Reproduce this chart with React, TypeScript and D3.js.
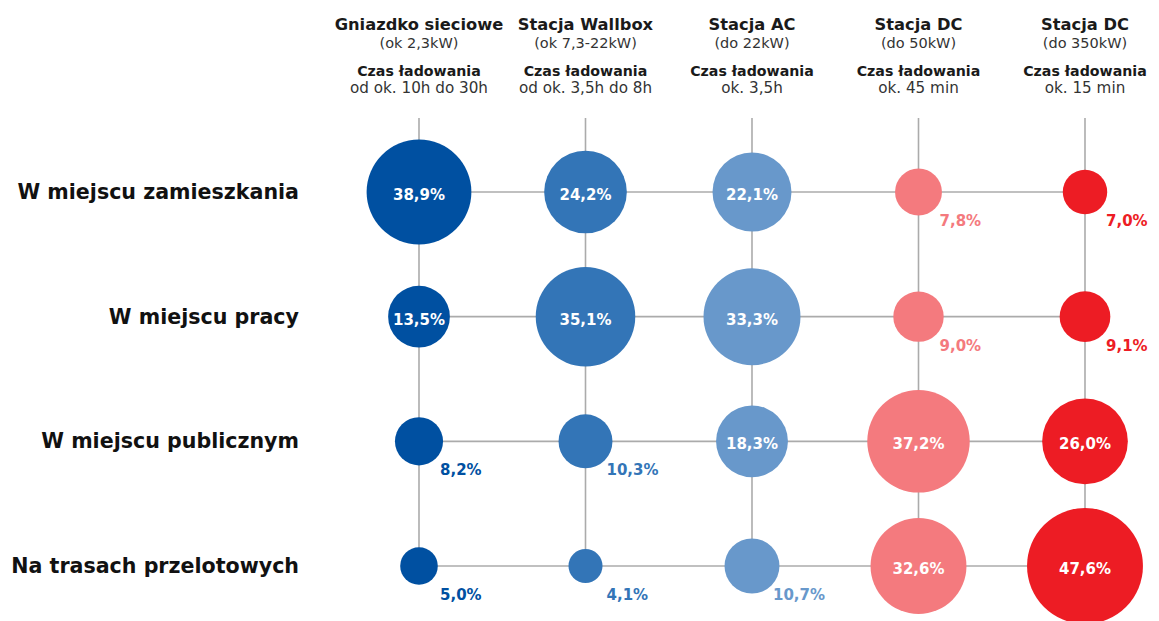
import React, { useEffect, useRef } from "react";
import * as d3 from "d3";

// charger types (columns)
const columns = ["Gniazdko sieciowe", "Stacja Wallbox", "Stacja AC", "Stacja DC", "Stacja DC 350"];
const columnTitles = ["Gniazdko sieciowe", "Stacja Wallbox", "Stacja AC", "Stacja DC", "Stacja DC"];
const columnPower = ["(ok 2,3kW)", "(ok 7,3-22kW)", "(do 22kW)", "(do 50kW)", "(do 350kW)"];
const chargeTime = ["od ok. 10h do 30h", "od ok. 3,5h do 8h", "ok. 3,5h", "ok. 45 min", "ok. 15 min"];

// places (rows)
const rows = ["W miejscu zamieszkania", "W miejscu pracy", "W miejscu publicznym", "Na trasach przelotowych"];

// share of answers in %, one list per charger type, in row order
const gniazdko = [38.9, 13.5, 8.2, 5.0];
const wallbox = [24.2, 35.1, 10.3, 4.1];
const stacjaAC = [22.1, 33.3, 18.3, 10.7];
const stacjaDC50 = [7.8, 9.0, 37.2, 32.6];
const stacjaDC350 = [7.0, 9.1, 26.0, 47.6];

const seriesColors = ["#0050a1", "#3375b7", "#6898cb", "#f47a7e", "#ed1c24"];

const W = 1159;
const H = 621;

const plLocale = d3.formatLocale({ decimal: ",", thousands: " ", grouping: [3], currency: ["", " zł"] });
const fmt = (v: number) => plLocale.format(".1f")(v) + "%";

function BubbleGrid() {
  const ref = useRef<SVGSVGElement>(null);

  useEffect(() => {
    const svg = d3.select(ref.current);
    svg.selectAll("*").remove();

    const font = "'DejaVu Sans', sans-serif";
    const series = [gniazdko, wallbox, stacjaAC, stacjaDC50, stacjaDC350];

    const x = d3.scalePoint<string>().domain(columns).range([419, 1085]);
    const y = d3.scalePoint<string>().domain(rows).range([192, 566]);
    const r = d3.scaleSqrt().domain([0, 50]).range([0, 59.4]);

    const cells = series.flatMap((vals, ci) =>
      vals.map((v, ri) => ({ col: columns[ci], row: rows[ri], ci, v }))
    );

    // grid lines
    const grid = svg.append("g").attr("stroke", "#ababab").attr("stroke-width", 1.6);
    grid.selectAll("line.v")
      .data(columns).enter()
      .append("line")
      .attr("x1", d => x(d)!)
      .attr("x2", d => x(d)!)
      .attr("y1", 118)
      .attr("y2", y(rows[rows.length - 1])!);
    grid.selectAll("line.h")
      .data(rows).enter()
      .append("line")
      .attr("y1", d => y(d)!)
      .attr("y2", d => y(d)!)
      .attr("x1", x(columns[0])!)
      .attr("x2", x(columns[columns.length - 1])!);

    // header
    const head = svg.append("g").attr("font-family", font).attr("text-anchor", "middle").attr("fill", "#1a1a1a");
    columns.forEach((c, i) => {
      const cx = x(c)!;
      head.append("text").attr("x", cx).attr("y", 30).attr("font-size", 16.3).attr("font-weight", "bold").text(columnTitles[i]);
      head.append("text").attr("x", cx).attr("y", 48).attr("font-size", 14.5).attr("fill", "#333").text(columnPower[i]);
      head.append("text").attr("x", cx).attr("y", 76).attr("font-size", 14.2).attr("font-weight", "bold").text("Czas ładowania");
      head.append("text").attr("x", cx).attr("y", 93).attr("font-size", 15.2).attr("fill", "#333").text(chargeTime[i]);
    });

    // row labels
    svg.append("g")
      .attr("font-family", font)
      .attr("text-anchor", "end")
      .selectAll("text")
      .data(rows).enter()
      .append("text")
      .attr("x", 299)
      .attr("y", d => y(d)! + 7)
      .attr("font-size", 20.6)
      .attr("font-weight", "bold")
      .attr("fill", "#111")
      .text(d => d);

    // bubbles
    svg.append("g")
      .selectAll("circle")
      .data(cells).enter()
      .append("circle")
      .attr("cx", d => x(d.col)!)
      .attr("cy", d => y(d.row)!)
      .attr("r", d => r(d.v))
      .attr("fill", d => seriesColors[d.ci]);

    // value labels: inside big bubbles, lower right of small ones
    svg.append("g")
      .attr("font-family", font)
      .attr("font-weight", "bold")
      .attr("font-size", 15)
      .selectAll("text")
      .data(cells).enter()
      .append("text")
      .attr("x", d => (d.v > 12 ? x(d.col)! : x(d.col)! + 21))
      .attr("y", d => (d.v > 12 ? y(d.row)! + 8 : y(d.row)! + 34))
      .attr("text-anchor", d => (d.v > 12 ? "middle" : "start"))
      .attr("fill", d => (d.v > 12 ? "#fff" : seriesColors[d.ci]))
      .text(d => fmt(d.v));
  }, []);

  return <svg ref={ref} width={W} height={H} style={{ position: "absolute", left: 0, top: 0, background: "#fff" }} />;
}

export default function App() {
  return <BubbleGrid />;
}
